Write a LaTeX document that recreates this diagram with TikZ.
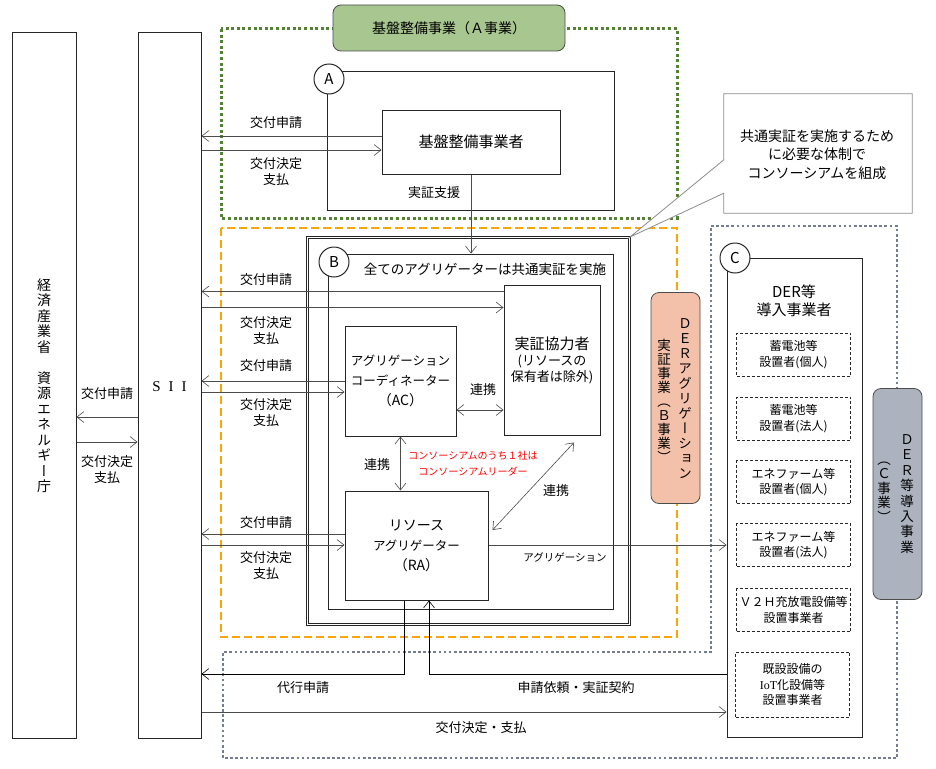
\documentclass[tikz,border=0pt]{standalone}
\usepackage{fontspec}
\setmainfont{Noto Sans CJK JP}
\newfontfamily\tatefont[RawFeature=+vert]{Noto Sans CJK JP}
\newfontfamily\serifont{Liberation Serif}
\usetikzlibrary{arrows.meta, positioning, calc}
\usepackage{xcolor}
\definecolor{kibangreen}{RGB}{84,130,53}
\definecolor{kibanfill}{RGB}{168,198,144}
\definecolor{borange}{RGB}{250,165,10}
\definecolor{bpink}{RGB}{243,192,170}
\definecolor{cslate}{RGB}{115,125,148}
\definecolor{cgray}{RGB}{172,178,190}

\begin{document}
\begin{tikzpicture}[
    x=1pt, y=-1pt,
    every node/.style={font=\fontsize{13}{16}\selectfont, inner sep=0pt},
    frame/.style={
        draw=black!85,
        line width=1pt,
        fill=white,
        align=center
    },
    subbox/.style={
        draw=black!85,
        line width=0.9pt,
        dash pattern=on 3pt off 2pt,
        minimum width=114pt,
        minimum height=43pt,
        align=center,
        font=\fontsize{12}{15.5}\selectfont
    },
    badge/.style={
        circle,
        draw=black!85,
        line width=1pt,
        fill=white,
        minimum size=30pt,
        font=\fontsize{15}{15}\selectfont
    },
    tab/.style={
        draw=black!70,
        line width=0.8pt,
        rounded corners=8pt
    },
    tate/.style={
        align=center,
        font=\tatefont\fontsize{13.5}{15}\selectfont
    },
    flow/.style={
        draw=black!70,
        line width=0.6pt,
        -{Straight Barb[length=7pt,width=11pt]}
    },
    link/.style={
        draw=black!70,
        line width=0.6pt,
        {Straight Barb[length=7pt,width=11pt]}-{Straight Barb[length=7pt,width=11pt]}
    },
    route/.style={
        draw=black,
        line width=1pt
    },
    rotulo/.style={
        align=center,
        font=\fontsize{13}{16}\selectfont
    }
]

\useasboundingbox (0,0) rectangle (936,768);

% ============================================================
% REGIOES (A, B, C)
% ============================================================

\draw[kibangreen, line width=3pt, dash pattern=on 3pt off 2.6pt]
    (221,29) rectangle (677,218);

\draw[borange, line width=2.6pt, dash pattern=on 8pt off 4pt]
    (221,228) rectangle (677,637);

\draw[cslate, line width=2.7pt, dash pattern=on 2.7pt off 2.4pt]
    (711,226) -- (897,226) -- (897,758) -- (223,758)
    -- (223,652) -- (711,652) -- cycle;

% ============================================================
% METI / SII
% ============================================================

\node[
    frame,
    minimum width=64pt,
    minimum height=705pt
] (meti) at (44,385.5) {};

\node[
    tate,
    font=\tatefont\fontsize{14}{15.5}\selectfont
] (metitext) at (meti)
{経\\済\\産\\業\\省\\　\\資\\源\\エ\\ネ\\ル\\ギ\\ー\\庁};

\node[
    frame,
    minimum width=63pt,
    minimum height=705pt
] (sii) at (169.5,385.5) {};

\node[
    font=\serifont\fontsize{15}{15}\selectfont
] (siitext) at (169.5,387) {S\hspace{8pt}I\hspace{8pt}I};

% ============================================================
% A: KIBAN SEIBI
% ============================================================

\node[
    tab,
    fill=kibanfill,
    minimum width=232pt,
    minimum height=46pt,
    font=\fontsize{14}{14}\selectfont
] (atab) at (449,28) {基盤整備事業（Ａ事業）};

\node[
    frame,
    minimum width=287pt,
    minimum height=139pt
] (abox) at (470.5,140.5) {};

\node[badge] (abadge) at (329,79) {A};

\node[
    frame,
    minimum width=178pt,
    minimum height=64pt,
    font=\fontsize{15}{15}\selectfont
] (kiban) at (471,142) {基盤整備事業者};

% ============================================================
% B: AGGREGATION
% ============================================================

\node[
    draw=black!85,
    line width=0.8pt,
    double,
    double distance=1.8pt,
    fill=white,
    minimum width=322pt,
    minimum height=387pt
] (bframe) at (468.5,431) {};

\node[
    frame,
    minimum width=285pt,
    minimum height=355pt
] (binner) at (470.5,431.5) {};

\node[badge] (bbadge) at (334,262) {B};

\node[
    font=\fontsize{13.5}{13.5}\selectfont
] (btitle) at (485,269) {全てのアグリゲーターは共通実証を実施};

\node[
    frame,
    minimum width=96pt,
    minimum height=150pt
] (kyoryoku) at (552,360)
{{\fontsize{15}{20}\selectfont 実証協力者}\\
 (リソースの\\保有者は除外)};

\node[
    frame,
    minimum width=111pt,
    minimum height=110pt,
    font=\fontsize{12.5}{20}\selectfont
] (ac) at (400.5,381)
{アグリゲーション\\コーディネーター\\{\fontsize{14}{20}\selectfont（AC）}};

\node[
    frame,
    minimum width=143pt,
    minimum height=109pt,
    font=\fontsize{12.5}{20}\selectfont
] (ra) at (416.5,545.5)
{{\fontsize{14}{20}\selectfont リソース}\\アグリゲーター\\{\fontsize{14}{20}\selectfont（RA）}};

\node[
    text=red,
    align=center,
    font=\fontsize{10}{16}\selectfont
] (leader) at (473,464)
{コンソーシアムのうち１社は\\コンソーシアムリーダー};

% Tab rosa
\node[
    tab,
    fill=bpink,
    minimum width=49pt,
    minimum height=211pt
] (btab) at (675.5,398) {};

\node[tate] (btabR) at (685,399) {Ｄ\\Ｅ\\Ｒ\\ア\\グ\\リ\\ゲ\\ー\\シ\\ョ\\ン};
\node[tate, font=\tatefont\fontsize{13.5}{14}\selectfont] (btabL) at (664,401) {実\\証\\事\\業\\（\\Ｂ\\事\\業\\）};

% ============================================================
% C: DER
% ============================================================

\node[
    frame,
    minimum width=135pt,
    minimum height=479pt
] (cbox) at (794.5,497.5) {};

\node[badge] (cbadge) at (735,258) {C};

\node[
    rotulo,
    font=\fontsize{15}{18}\selectfont
] (ctitle) at (794,301) {DER等\\導入事業者};

\node[subbox] (der1) at (793.5,354.5) {蓄電池等\\設置者(個人)};
\node[subbox] (der2) at (793.5,418.5) {蓄電池等\\設置者(法人)};
\node[subbox] (der3) at (793.5,482) {エネファーム等\\設置者(個人)};
\node[subbox] (der4) at (793.5,545) {エネファーム等\\設置者(法人)};
\node[subbox] (der5) at (793.5,610) {Ｖ２Ｈ充放電設備等\\設置事業者};
\node[subbox, minimum height=65pt] (der6) at (792.5,684.5)
{既設設備の\\{\serifont IoT}化設備等\\設置事業者};

% Tab cinza
\node[
    tab,
    fill=cgray,
    minimum width=49pt,
    minimum height=211pt
] (ctab) at (897.5,494) {};

\node[tate, font=\tatefont\fontsize{13.5}{15.4}\selectfont] (ctabR) at (907,494) {Ｄ\\Ｅ\\Ｒ\\等\\導\\入\\事\\業};
\node[tate, font=\tatefont\fontsize{13.5}{14.5}\selectfont] (ctabL) at (884,492) {（\\Ｃ\\事\\業\\）};

% ============================================================
% BALAO
% ============================================================

\node[
    minimum width=188pt,
    minimum height=119pt
] (callout) at (818,153.5) {};

\filldraw[draw=black!45, fill=white, line width=0.8pt]
    (callout.north west) -- (callout.north east)
    -- (callout.south east) -- (callout.south west)
    -- ([yshift=20pt]callout.south west)
    -- (bframe.north east)
    -- ([yshift=-66pt]callout.north west) -- cycle;

\node[
    rotulo,
    font=\fontsize{14}{18.5}\selectfont
] (callouttext) at (817,154.5)
{共通実証を実施するため\\に必要な体制で\\コンソーシアムを組成};

% ============================================================
% SETAS
% ============================================================

% METI <-> SII
\draw[flow] ([yshift=-31.5pt]sii.west) -- ([yshift=-31.5pt]sii.west -| meti.east);
\draw[flow] ([yshift=-56.5pt]meti.east) -- ([yshift=-56.5pt]meti.east -| sii.west);
\node[rotulo] (l0a) at (107,394) {交付申請};
\node[rotulo] (l0b) at (107,470) {交付決定\\支払};

% SII <-> A
\draw[flow] ([yshift=6pt]kiban.west) -- ([yshift=6pt]kiban.west -| sii.east);
\draw[flow] ([yshift=-8pt]kiban.west -| sii.east) -- ([yshift=-8pt]kiban.west);
\node[rotulo] (l1a) at (276,123) {交付申請};
\node[rotulo] (l1b) at (276,172) {交付決定\\支払};

% SII <-> B
\draw[flow] ([yshift=-7pt]kyoryoku.north west) -- ([yshift=-7pt]kyoryoku.north west -| sii.east);
\draw[flow] ([yshift=-23pt]kyoryoku.north west -| sii.east) -- ([yshift=-23pt]kyoryoku.north west);
\node[rotulo] (l2a) at (266,280) {交付申請};
\node[rotulo] (l2b) at (266,331) {交付決定\\支払};

\draw[flow] ([yshift=0pt]ac.west) -- ([yshift=0pt]ac.west -| sii.east);
\draw[flow] ([yshift=-11pt]ac.west -| sii.east) -- ([yshift=-11pt]ac.west);
\node[rotulo] (l3a) at (266,366) {交付申請};
\node[rotulo] (l3b) at (266,413) {交付決定\\支払};

\draw[flow] ([yshift=11.5pt]ra.west) -- ([yshift=11.5pt]ra.west -| sii.east);
\draw[flow] ([yshift=0.5pt]ra.west -| sii.east) -- ([yshift=0.5pt]ra.west);
\node[rotulo] (l4a) at (266,523) {交付申請};
\node[rotulo] (l4b) at (266,566) {交付決定\\支払};

% Apoio A -> B
\draw[flow] (kiban.south) -- (kiban.south |- binner.north);
\node[rotulo] (lsup) at (434,193) {実証支援};

% Ligacoes
\draw[link] ([yshift=-29pt]ac.east) -- ([yshift=-29pt]ac.east -| kyoryoku.west);
\node[rotulo] (lk1) at (483,390) {連携};

\draw[link] (ac.south) -- (ac.south |- ra.north);
\node[rotulo] (lk2) at (377,465) {連携};

\draw[link] ([xshift=22pt,yshift=-7pt]kyoryoku.south) -- ([xshift=4pt,yshift=15.5pt]ra.east);
\node[rotulo] (lk3) at (556,491) {連携};

% RA -> C
\draw[flow] ([yshift=0.5pt]ra.east) -- ([yshift=0.5pt]ra.east -| cbox.west);
\node[
    rotulo,
    font=\fontsize{10.5}{12}\selectfont
] (lagg) at (565,557) {アグリゲーション};

% Linhas de baixo
\coordinate (rowdaiko) at (0,674);
\coordinate (rowpay) at (0,712);

\draw[route, -{Straight Barb[length=7pt,width=11pt,line width=0.6pt]}]
    ([xshift=-12.5pt]ra.south) |- (rowdaiko -| sii.east);
\node[rotulo] (ldaiko) at (303,688) {代行申請};

\draw[route, -{Straight Barb[length=7pt,width=11pt,line width=0.6pt]}]
    (rowdaiko -| cbox.west) -| ([xshift=12.5pt]ra.south);
\node[rotulo] (lirai) at (576,688) {申請依頼・実証契約};

\draw[flow] (rowpay -| sii.east) -- (rowpay -| cbox.west);
\node[rotulo] (lpay) at (481,728) {交付決定・支払};

\end{tikzpicture}
\end{document}
